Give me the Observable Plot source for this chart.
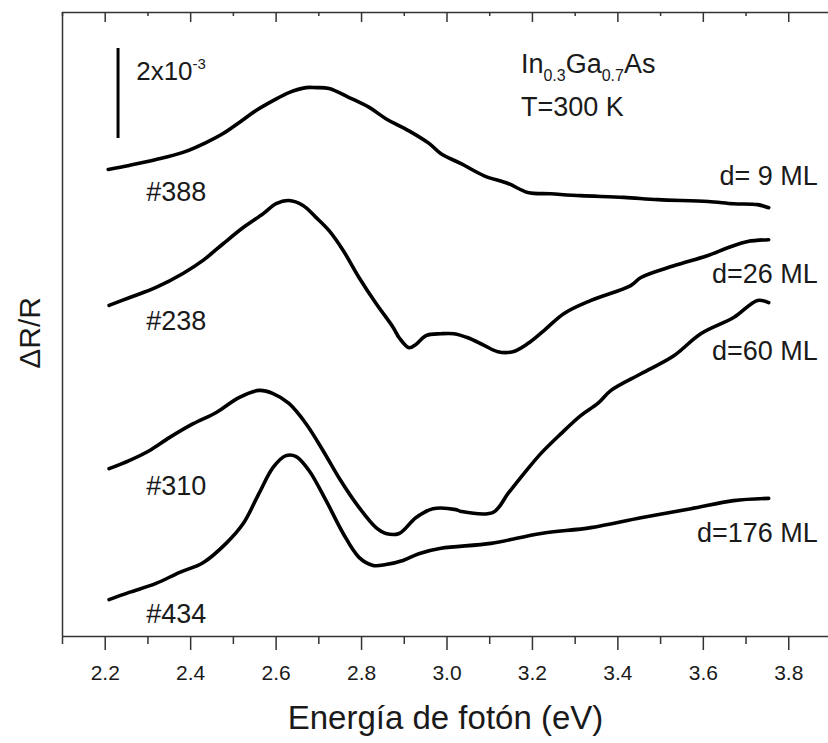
<!DOCTYPE html>
<html>
<head>
<meta charset="utf-8">
<script src="https://cdn.jsdelivr.net/npm/d3@7"></script>
<script src="https://cdn.jsdelivr.net/npm/@observablehq/plot@0.6"></script>
<style>
  html, body { margin: 0; padding: 0; background: #fff; overflow: hidden; }
  #chart svg { display: block; }
</style>
</head>
<body>
<div id="chart"></div>
<script>
// Photon energy (eV) and ΔR/R (units of 1e-3, curves vertically offset)
const s388E = [2.207,2.256,2.319,2.382,2.436,2.476,2.513,2.553,2.593,2.630,2.670,2.694,2.724,2.771,2.818,2.857,2.911,2.958,2.986,3.033,3.087,3.143,3.189,3.243,3.313,3.414,3.494,3.611,3.671,3.727,3.753];
const s388V = [10.38,10.47,10.60,10.76,10.98,11.18,11.42,11.69,11.91,12.09,12.20,12.20,12.18,11.98,11.76,11.51,11.24,10.96,10.73,10.51,10.24,10.07,9.87,9.84,9.80,9.76,9.71,9.67,9.62,9.60,9.53];

const s238E = [2.209,2.256,2.319,2.382,2.429,2.476,2.523,2.570,2.600,2.630,2.663,2.694,2.724,2.757,2.794,2.834,2.874,2.888,2.911,2.927,2.951,2.986,3.016,3.049,3.087,3.119,3.154,3.189,3.227,3.274,3.337,3.430,3.454,3.531,3.611,3.657,3.704,3.753];
const s238V = [7.36,7.53,7.76,8.07,8.36,8.73,9.09,9.40,9.62,9.69,9.58,9.31,9.02,8.58,7.98,7.40,6.87,6.64,6.42,6.49,6.69,6.73,6.73,6.64,6.47,6.33,6.33,6.51,6.80,7.18,7.47,7.80,7.98,8.24,8.47,8.64,8.78,8.82];

const s310E = [2.209,2.256,2.303,2.350,2.406,2.460,2.513,2.560,2.593,2.630,2.670,2.710,2.747,2.794,2.834,2.857,2.888,2.927,2.967,3.021,3.033,3.108,3.143,3.180,3.220,3.267,3.313,3.353,3.384,3.454,3.531,3.594,3.671,3.727,3.753];
const s310V = [3.73,3.91,4.13,4.42,4.73,4.98,5.31,5.47,5.40,5.18,4.73,4.13,3.53,2.87,2.42,2.29,2.29,2.64,2.84,2.82,2.78,2.76,3.18,3.62,4.07,4.51,4.91,5.18,5.47,5.84,6.24,6.73,7.09,7.47,7.42];

const s434E = [2.209,2.256,2.319,2.373,2.429,2.483,2.523,2.560,2.593,2.623,2.647,2.677,2.717,2.757,2.794,2.827,2.857,2.897,2.934,2.986,3.103,3.220,3.337,3.454,3.571,3.671,3.753];
const s434V = [0.82,0.98,1.18,1.42,1.64,2.07,2.51,3.18,3.76,4.02,4.00,3.69,3.02,2.29,1.76,1.58,1.60,1.69,1.84,1.96,2.07,2.29,2.42,2.64,2.84,3.02,3.07];

const sampleNames = ["#388", "#238", "#310", "#434"];
const sampleLabelE = [2.296, 2.296, 2.296, 2.296];
const sampleLabelV = [9.87, 7.00, 3.33, 0.49];

const thickNames = ["d= 9 ML", "d=26 ML", "d=60 ML", "d=176 ML"];
const thickLabelE = [3.868, 3.868, 3.868, 3.868];
const thickLabelV = [10.22, 8.04, 6.33, 2.29];

const majorTicks = [2.2, 2.4, 2.6, 2.8, 3.0, 3.2, 3.4, 3.6, 3.8];
const minorTicks = [2.1, 2.3, 2.5, 2.7, 2.9, 3.1, 3.3, 3.5, 3.7];

const xDomain = [2.1, 3.893];
const yDomain = [0, 13.87];

// scale bar: 2x10^-3
const scaleBarE = 2.23;
const scaleBarV = [11.07, 13.07];
const scaleLabelE = 2.2725, scaleLabelV = 12.56;

const infoE = 3.173;
const infoLines = ["In0.3Ga0.7As", "T=300 K"];
const infoV = [12.71, 11.76];

const yLabelV = 6.75;

const toPts = (E, V) => E.map((e, i) => ({e, v: V[i]}));
const curves = [toPts(s388E, s388V), toPts(s238E, s238V), toPts(s310E, s310V), toPts(s434E, s434V)];

const W = 828, H = 743, mT = 12, mB = 107, mL = 62, mR = 0;
const frameH = H - mT - mB;
const ink = "#1a1a1a";
const axisInk = "#333";

const chart = Plot.plot({
  width: W,
  height: H,
  marginTop: mT,
  marginBottom: mB,
  marginLeft: mL,
  marginRight: mR,
  style: {fontFamily: "'Liberation Sans', Arial, Helvetica, sans-serif", background: "#fff", color: ink},
  x: {domain: xDomain, label: null},
  y: {domain: yDomain, axis: null, label: null},
  marks: [
    // frame lines (left, top, bottom)
    Plot.ruleX([xDomain[0]], {stroke: axisInk, strokeWidth: 1.5}),
    Plot.ruleY([yDomain[1]], {stroke: axisInk, strokeWidth: 1.5}),
    Plot.ruleY([yDomain[0]], {stroke: axisInk, strokeWidth: 1.5}),
    // bottom axis: major ticks with labels
    Plot.axisX(majorTicks, {anchor: "bottom", label: null, tickSize: 14, tickPadding: 15, fontSize: 21, stroke: axisInk, strokeWidth: 1.5, fill: ink, tickFormat: d => d.toFixed(1)}),
    // bottom minor ticks
    Plot.tickX(minorTicks, {x: d => d, insetTop: frameH, insetBottom: -8, stroke: axisInk, strokeWidth: 1.5}),
    // top ticks (inward)
    Plot.tickX(majorTicks, {x: d => d, insetBottom: frameH - 10, stroke: axisInk, strokeWidth: 1.5}),
    Plot.tickX(minorTicks, {x: d => d, insetBottom: frameH - 4, stroke: axisInk, strokeWidth: 1.5}),
    // spectra
    ...curves.map(c => Plot.line(c, {x: "e", y: "v", curve: "catmull-rom", stroke: "#000", strokeWidth: 3.6, strokeLinejoin: "round", strokeLinecap: "round"})),
    // scale bar
    Plot.ruleX([scaleBarE], {y1: scaleBarV[0], y2: scaleBarV[1], stroke: "#000", strokeWidth: 3}),
    Plot.text(["2x10-3"], {x: scaleLabelE, y: scaleLabelV, textAnchor: "start", fontSize: 26, fill: ink}),
    // composition / temperature
    Plot.text(infoLines, {x: infoE, y: (d, i) => infoV[i], textAnchor: "start", fontSize: 27, fill: ink}),
    // sample labels
    Plot.text(sampleNames, {x: (d, i) => sampleLabelE[i], y: (d, i) => sampleLabelV[i], textAnchor: "start", fontSize: 27, fill: ink}),
    // thickness labels
    Plot.text(thickNames, {x: (d, i) => thickLabelE[i], y: (d, i) => thickLabelV[i], textAnchor: "end", fontSize: 27, fill: ink}),
    // axis titles
    Plot.text(["ΔR/R"], {x: xDomain[0], y: yLabelV, dx: -32, rotate: -90, fontSize: 30, fill: ink}),
    Plot.text(["Energía de fotón (eV)"], {frameAnchor: "bottom", dy: 92, fontSize: 33, fill: ink})
  ]
});

// rich text: subscripts / superscript
const NS = "http://www.w3.org/2000/svg";
function rich(el, parts) {
  el.textContent = "";
  let shift = 0;
  for (const [txt, size, off] of parts) {
    const t = document.createElementNS(NS, "tspan");
    t.textContent = txt;
    if (size) t.setAttribute("font-size", size);
    const d = off - shift;
    if (d) t.setAttribute("dy", d);
    shift = off;
    el.appendChild(t);
  }
}
chart.querySelectorAll("text").forEach(el => {
  const s = el.textContent;
  if (s === "In0.3Ga0.7As") {
    rich(el, [["In", null, 0], ["0.3", 16, 8], ["Ga", null, 0], ["0.7", 16, 8], ["As", null, 0]]);
  } else if (s === "2x10-3") {
    rich(el, [["2x10", null, 0], ["-3", 15, -11]]);
  }
});

document.getElementById("chart").appendChild(chart);
</script>
</body>
</html>
